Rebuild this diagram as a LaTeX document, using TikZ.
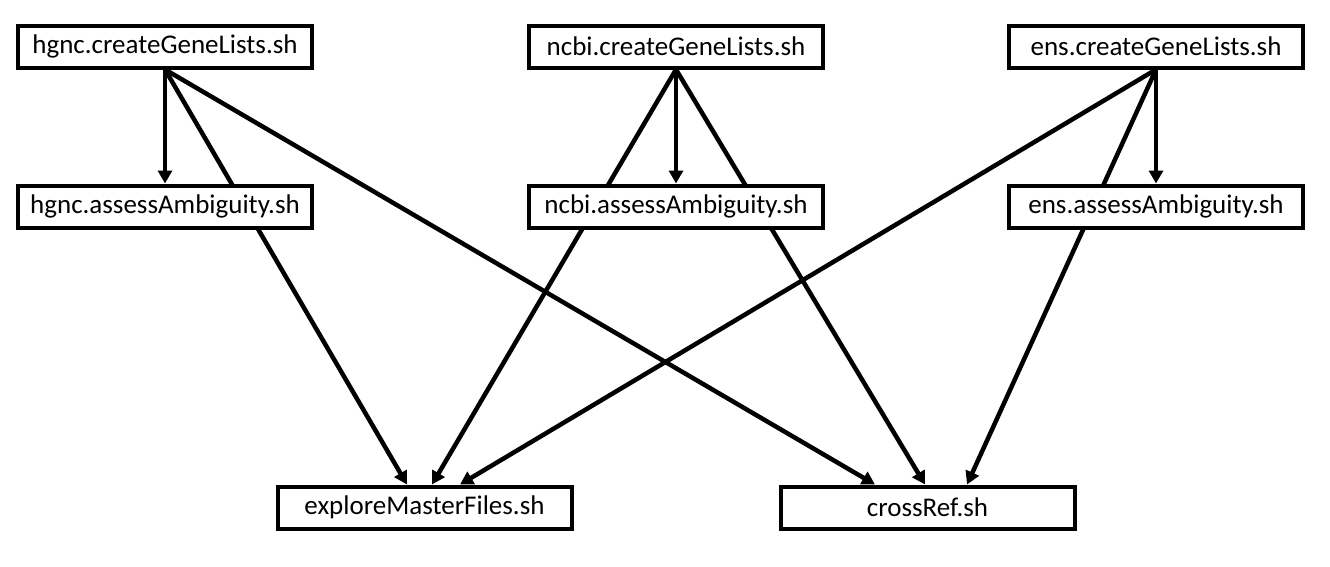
\documentclass[tikz,border=0pt]{standalone}
\usepackage{fontspec}
\setmainfont{Carlito}
\usetikzlibrary{arrows.meta,calc,backgrounds}
\begin{document}
\begin{tikzpicture}[x=1pt,y=-1pt,
  box/.style={draw,line width=4pt,fill=white,minimum width=294pt,minimum height=42pt,inner sep=0pt,font=\fontsize{27}{31}\selectfont},
  edge/.style={line width=4.5pt,-{Triangle[length=13pt,width=14pt]}}]
\useasboundingbox (0,0) rectangle (1330,566);
\node[box] (hc) at (165,46.5) {\raisebox{-1.5pt}{hgnc.createGeneLists.sh}};
\node[box] (ha) at (165,206.5) {\raisebox{-1.5pt}{hgnc.assessAmbiguity.sh}};
\node[box] (nc) at (676,46.5) {\raisebox{-1.5pt}{ncbi.createGeneLists.sh}};
\node[box] (na) at (676,206.5) {\raisebox{-1.5pt}{ncbi.assessAmbiguity.sh}};
\node[box] (ec) at (1156,46.5) {\raisebox{-1.5pt}{ens.createGeneLists.sh}};
\node[box] (ea) at (1156,206.5) {\raisebox{-1.5pt}{ens.assessAmbiguity.sh}};
\node[box] (ex) at (424.5,507.5) {\raisebox{-1.5pt}{exploreMasterFiles.sh}};
\node[box] (cr) at (927.5,507.5) {\raisebox{-1.5pt}{crossRef.sh}};
\begin{scope}[on background layer]
\draw[edge] (hc.south) -- (ha.north);
\draw[edge] (hc.south) -- ($(ex.north)+(-17.5,0)$);
\draw[edge] (hc.south) -- ($(cr.north)+(-52.5,0)$);
\draw[edge] (nc.south) -- (na.north);
\draw[edge] (nc.south) -- ($(ex.north)+(7.5,0)$);
\draw[edge] (nc.south) -- ($(cr.north)+(-2.5,0)$);
\draw[edge] (ec.south) -- (ea.north);
\draw[edge] (ec.south) -- ($(ex.north)+(35.5,0)$);
\draw[edge] (ec.south) -- ($(cr.north)+(39.5,0)$);
\end{scope}
\end{tikzpicture}
\end{document}
